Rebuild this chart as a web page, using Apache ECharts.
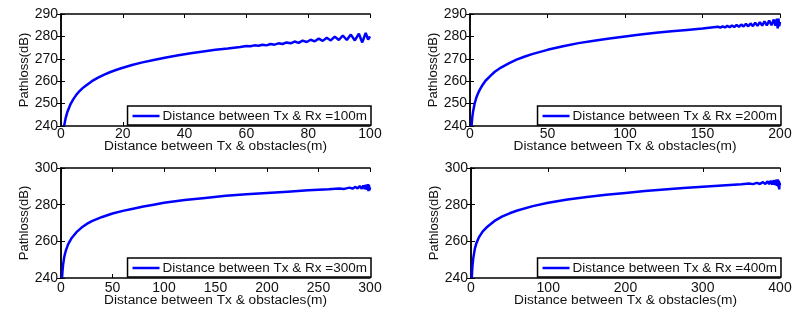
<!DOCTYPE html>
<html>
<head>
<meta charset="utf-8">
<script src="https://cdn.jsdelivr.net/npm/echarts@6/dist/echarts.min.js"></script>
<style>
  html, body { margin: 0; padding: 0; background: #fff; }
  #main { width: 798px; height: 313px; }
</style>
</head>
<body>
<div id="main"></div>
<script>
// distance between Tx & obstacles (m) and pathloss (dB)
var x100 = [1, 1.5, 2, 3, 4, 5, 6, 7, 8, 10, 12, 14, 16, 18, 20, 23, 26, 30, 34, 38, 42, 46, 50, 54, 58,
  60, 61.3, 62.6, 63.9, 65.2, 66.5, 67.8, 69.1, 70.4, 71.7, 73, 74.3, 75.6, 76.9, 78.2, 79.5, 80.8, 82.1,
  83.4, 84.7, 86, 87.3, 88.6, 89.9, 91.2, 92.5, 93.8, 95.1, 96.4, 97.5, 98.6, 99.4, 100]
var y100 = [240, 243.5, 246, 249.5, 252, 254, 255.6, 256.9, 258, 260, 261.6, 262.9, 264.1, 265.1, 266, 267.2, 268.3, 269.5, 270.6, 271.6, 272.5, 273.3, 274, 274.6, 275.3,
  275.7, 275.6, 276, 275.8, 276.3, 276, 276.6, 276.3, 276.9, 276.6, 277.3, 276.9, 277.7, 277.1, 278.1, 277.5, 278.5, 277.8,
  279, 278, 279.4, 278.2, 279.9, 278.4, 280.4, 278.4, 280.8, 278.2, 281.2, 277.3, 281.5, 278.6, 280]

var x200 = [1, 1.5, 2, 3, 4, 5, 6, 8, 10, 13, 16, 20, 25, 30, 35, 40, 50, 60, 70, 80, 90, 100, 110, 120, 130, 140, 150,
  160, 161.5, 163, 164.5, 166, 167.5, 169, 170.5, 172, 173.5, 175, 176.5, 178, 179.5, 181, 182.5, 184, 185.5,
  187, 188.5, 190, 191.5, 193, 194.5, 196, 197, 198, 198.5, 199, 199.5, 200]
var y200 = [240, 244, 246.5, 250, 252.5, 254.3, 255.8, 258.2, 260.2, 262.3, 264.2, 266.1, 268, 269.6, 270.9, 272.1, 274, 275.6, 277, 278.1, 279.1, 280, 280.8, 281.6, 282.3, 282.9, 283.5,
  284.3, 283.9, 284.5, 284, 284.7, 284.1, 284.9, 284.2, 285.1, 284.3, 285.3, 284.4, 285.6, 284.5, 285.8, 284.6, 286.1, 284.7,
  286.4, 284.8, 286.7, 284.9, 287.1, 285, 287.5, 284.8, 287.9, 283.6, 288, 284.5, 286.5]

var x300 = [1, 1.5, 2, 3, 4, 5, 7, 10, 15, 20, 25, 30, 40, 50, 60, 70, 80, 90, 100, 120, 140, 160, 180, 200, 220, 240, 260,
  270, 275, 280, 283, 286, 288, 290, 292, 293.5, 295, 296, 297, 298, 298.5, 299, 299.5, 300]
var y300 = [240, 244, 247, 251, 253.5, 255.5, 258.5, 261.5, 265, 267.5, 269.5, 271, 273.3, 275.2, 276.6, 277.8, 279, 280, 281, 282.5, 283.7, 284.8, 285.7, 286.4, 287.1, 287.8, 288.4,
  288.8, 288.6, 289.3, 288.8, 289.7, 288.8, 290.1, 288.7, 290.5, 288.5, 290.9, 288.2, 291.2, 287.4, 290.8, 287.8, 289.5]

var x400 = [1, 1.5, 2, 3, 5, 7, 10, 15, 20, 30, 40, 50, 60, 80, 100, 125, 150, 175, 200, 225, 250, 275, 300, 325, 350,
  360, 365, 370, 374, 378, 381, 384, 386, 388, 390, 392, 393.5, 395, 396, 397, 398, 398.5, 399, 399.5, 400]
var y400 = [240, 244, 247, 251, 256, 259, 262, 265.3, 267.5, 271, 273.5, 275.3, 276.8, 279.2, 281, 282.8, 284.2, 285.4, 286.4, 287.4, 288.3, 289.1, 289.8, 290.5, 291.1,
  291.5, 291.2, 291.9, 291.3, 292.3, 291.3, 292.7, 291.2, 293, 291, 293.3, 290.7, 293.6, 290.2, 293.8, 289.5, 293.2, 288.3, 292, 290.5]

var panels = [
  { xs: x100, ys: y100, xmax: 100, xstep: 20, ymax: 290, ystep: 10, name: 'Distance between Tx & Rx =100m' },
  { xs: x200, ys: y200, xmax: 200, xstep: 50, ymax: 290, ystep: 10, name: 'Distance between Tx & Rx =200m' },
  { xs: x300, ys: y300, xmax: 300, xstep: 50, ymax: 300, ystep: 20, name: 'Distance between Tx & Rx =300m' },
  { xs: x400, ys: y400, xmax: 400, xstep: 100, ymax: 300, ystep: 20, name: 'Distance between Tx & Rx =400m' }
]

// plot boxes in pixels
var boxes = [
  { left: 61, top: 14, width: 309, height: 112, nameGap: 13, labelMargin: 1 },
  { left: 470, top: 14, width: 310, height: 112, nameGap: 13, labelMargin: 1 },
  { left: 61, top: 168, width: 309, height: 110, nameGap: 15, labelMargin: 3 },
  { left: 471, top: 168, width: 309, height: 110, nameGap: 15, labelMargin: 3 }
]

var font = 'Liberation Sans'
var lineAxis = { show: true, lineStyle: { color: '#000', width: 1.5 } }
var grid = [], xAxis = [], yAxis = [], series = [], legend = []

panels.forEach(function (p, i) {
  var b = boxes[i]
  grid.push({ left: b.left, top: b.top, width: b.width, height: b.height, containLabel: false })
  var data = p.xs.map(function (x, k) { return [x, p.ys[k]] })

  xAxis.push({
    type: 'value', gridIndex: i, min: 0, max: p.xmax, interval: p.xstep, position: 'bottom',
    name: 'Distance between Tx & obstacles(m)', nameLocation: 'middle', nameGap: b.nameGap,
    nameMoveOverlap: false,
    nameTextStyle: { fontFamily: font, fontSize: 13.7, color: '#111' },
    axisLine: lineAxis,
    axisTick: { inside: true, length: 4, lineStyle: { color: '#000' } },
    axisLabel: { margin: b.labelMargin, fontFamily: font, fontSize: 14, color: '#111' },
    splitLine: { show: false }
  })
  xAxis.push({
    type: 'value', gridIndex: i, min: 0, max: p.xmax, interval: p.xstep, position: 'top',
    axisLine: lineAxis,
    axisTick: { inside: true, length: 4, lineStyle: { color: '#000' } },
    axisLabel: { show: false }, splitLine: { show: false }
  })
  yAxis.push({
    type: 'value', gridIndex: i, min: 240, max: p.ymax, interval: p.ystep, position: 'left',
    name: 'Pathloss(dB)', nameLocation: 'middle', nameGap: 30,
    nameMoveOverlap: false,
    nameTextStyle: { fontFamily: font, fontSize: 13, color: '#111' },
    axisLine: lineAxis,
    axisTick: { inside: true, length: 4, lineStyle: { color: '#000' } },
    axisLabel: { margin: 3, fontFamily: font, fontSize: 14, color: '#111' },
    splitLine: { show: false }
  })
  yAxis.push({
    type: 'value', gridIndex: i, min: 240, max: p.ymax, interval: p.ystep, position: 'right',
    axisLine: lineAxis,
    axisTick: { inside: true, length: 4, lineStyle: { color: '#000' } },
    axisLabel: { show: false }, splitLine: { show: false }
  })

  series.push({
    name: p.name, type: 'line', xAxisIndex: i * 2, yAxisIndex: i * 2,
    data: data, showSymbol: false, clip: true,
    lineStyle: { color: '#0000ff', width: 2.5 }, itemStyle: { color: '#0000ff' }
  })

  legend.push({
    data: [p.name],
    right: 798 - (b.left + b.width) - 1,
    top: b.top + b.height - 20,
    backgroundColor: '#fff', borderColor: '#000', borderWidth: 1.5,
    padding: [3, 4, 2, 5],
    icon: 'rect', itemWidth: 27, itemHeight: 2.5, itemGap: 4,
    textStyle: { fontFamily: font, fontSize: 13.5, color: '#111', padding: [0, 0, 0, -2] }
  })
})

var myChart = echarts.init(document.getElementById('main'))
myChart.setOption({
  animation: false,
  grid: grid,
  xAxis: xAxis,
  yAxis: yAxis,
  legend: legend,
  series: series
})
</script>
</body>
</html>
